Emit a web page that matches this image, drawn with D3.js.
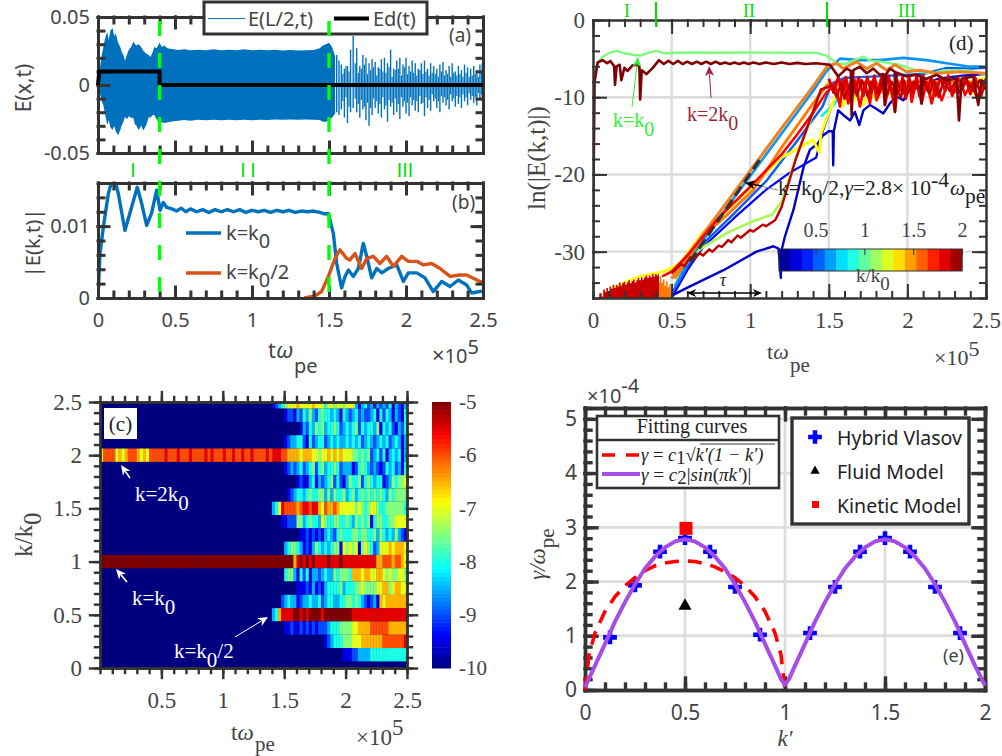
<!DOCTYPE html>
<html>
<head>
<meta charset="utf-8">
<script src="https://cdnjs.cloudflare.com/ajax/libs/d3/7.8.5/d3.min.js"></script>
<style>
  html, body { margin: 0; padding: 0; background: #fff; }
  svg { display: block; }
</style>
</head>
<body>
<div id="chart"></div>
<script>
// ---- panel (a): envelope of E(L/2,t), then single spikes after t=1.5
var aEnvT    = [0,.012,.024,.035,.045,.06,.07,.08,.095,.105,.115,.13,.145,.155,.165,.175,.19,.2,.215,.23,.24,.25,.265,.28,.295,.315,.33,.34,.355,.365,.38,.4,.415,.43,.45,.48,.52,.56,.6,.65,.7,.75,.8,.85,.9,.95,1,1.05,1.1,1.15,1.2,1.25,1.3,1.35,1.4,1.44,1.46,1.48,1.5,1.52,1.54];
var aEnvUp   = [0,.012,.022,.028,.034,.039,.033,.04,.0418,.036,.038,.031,.028,.024,.022,.0178,.023,.026,.028,.032,.03,.029,.03,.028,.025,.023,.022,.0205,.024,.028,.027,.031,.028,.029,.027,.0265,.0258,.0262,.0255,.026,.0256,.0262,.0255,.026,.0256,.0262,.0255,.026,.0256,.026,.0254,.0258,.0254,.0256,.0258,.027,.029,.03,.031,.028,.021];
var aEnvDown = [0,-.006,-.012,-.015,-.021,-.0295,-.026,-.031,-.033,-.03,-.034,-.037,-.033,-.0294,-.027,-.0235,-.025,-.023,-.024,-.0245,-.029,-.03,-.033,-.03,-.0335,-.029,-.0235,-.024,-.022,-.022,-.025,-.0295,-.0272,-.028,-.0275,-.0268,-.0262,-.0258,-.0262,-.0256,-.026,-.0255,-.026,-.0256,-.026,-.0255,-.026,-.0255,-.0258,-.0254,-.0256,-.0254,-.0256,-.0254,-.0256,-.0258,-.027,-.027,-.026,-.024,-.021];
var aSpikeT    = [1.55,1.565,1.58,1.6,1.62,1.64,1.657,1.68,1.7,1.72,1.74,1.76,1.78,1.8,1.82,1.84,1.86,1.88,1.9,1.92,1.94,1.96,1.98,2,2.02,2.04,2.06,2.08,2.1,2.12,2.14,2.16,2.18,2.2,2.22,2.24,2.26,2.28,2.3,2.32,2.34,2.36,2.38,2.4,2.42,2.44,2.46,2.48,2.495];
var aSpikeUp   = [.022,.018,.015,.012,.014,.026,.036,.027,.014,.022,.02,.016,.019,.017,.013,.019,.02,.016,.026,.012,.018,.02,.015,.02,.014,.018,.016,.012,.016,.018,.012,.016,.014,.012,.015,.017,.011,.014,.016,.01,.014,.011,.015,.013,.012,.014,.011,.015,.016];
var aSpikeDown = [-.02,-.022,-.018,-.024,-.028,-.02,-.017,-.02,-.024,-.018,-.026,-.03,-.022,-.017,-.021,-.024,-.018,-.027,-.016,-.022,-.02,-.025,-.016,-.021,-.023,-.015,-.019,-.02,-.014,-.023,-.017,-.019,-.012,-.017,-.02,-.013,-.015,-.018,-.012,-.016,-.014,-.017,-.012,-.015,-.011,-.013,-.015,-.01,-.012];
var aFillT    = [1.59,1.61,1.63,1.67,1.69,1.71,1.73,1.75,1.77,1.79,1.81,1.83,1.85,1.87,1.89,1.91,1.93,1.95,1.97,1.99,2.01,2.03,2.05,2.07,2.09,2.11,2.13,2.15,2.17,2.19,2.21,2.23,2.25,2.27,2.29,2.31,2.33,2.35,2.37,2.39,2.41,2.43,2.45,2.47,2.49];
var aFillUp   = [.008,.014,.01,.016,.009,.012,.015,.008,.011,.013,.007,.012,.01,.009,.013,.006,.011,.012,.007,.013,.008,.01,.009,.007,.011,.008,.01,.007,.009,.008,.006,.01,.007,.008,.006,.009,.007,.008,.006,.009,.006,.007,.008,.006,.009];
var aFillDown = [-.012,-.009,-.016,-.01,-.014,-.011,-.016,-.013,-.017,-.01,-.012,-.014,-.009,-.015,-.011,-.013,-.01,-.014,-.009,-.012,-.013,-.009,-.011,-.012,-.008,-.013,-.009,-.011,-.007,-.01,-.012,-.008,-.009,-.011,-.007,-.01,-.008,-.009,-.007,-.009,-.006,-.008,-.009,-.006,-.007];
var aEdT = [0,.008,.4,.4,2.5];
var aEdV = [0,.01,.01,0,0];

// ---- panel (b): |E(k,t)|
var bK0T = [0,.013,.035,.067,.089,.11,.132,.175,.219,.255,.284,.316,.348,.381,.403,.424,.446,.48,.51,.54,.57,.6,.64,.68,.72,.76,.8,.84,.88,.92,.96,1,1.04,1.08,1.12,1.16,1.2,1.24,1.28,1.32,1.36,1.4,1.44,1.47,1.496,1.528,1.55,1.582,1.604,1.626,1.658,1.69,1.723,1.745,1.777,1.81,1.842,1.885,1.94,1.983,2.015,2.07,2.123,2.177,2.232,2.286,2.34,2.394,2.426,2.48,2.5];
var bK0V = [0,.0062,.0099,.0145,.0162,.0164,.0145,.0094,.0127,.0154,.0131,.0101,.0118,.015,.0122,.0133,.0126,.0124,.0121,.0125,.012,.0124,.012,.0123,.0119,.0123,.012,.0123,.012,.0123,.0119,.0122,.012,.0122,.0119,.0122,.012,.0122,.0119,.0121,.012,.0121,.0119,.0117,.01175,.009,.0048,.0014,.003,.0039,.003,.0041,.0076,.0058,.0028,.0041,.0035,.0041,.0046,.0023,.0035,.0035,.0028,.0009,.0023,.0016,.0025,.0018,.0007,.0009,.001];
var bK02T = [1.34,1.41,1.452,1.496,1.539,1.571,1.615,1.636,1.669,1.712,1.745,1.788,1.831,1.874,1.918,1.972,2.015,2.07,2.113,2.167,2.221,2.286,2.351,2.394,2.48,2.5];
var bK02V = [0,.0003,.0009,.003,.0055,.0067,.0055,.0053,.0062,.0041,.0055,.0058,.0048,.0058,.0044,.0058,.0051,.0051,.0046,.0048,.0041,.003,.0032,.0032,.0023,.0022];

// ---- panel (c): heat map, one hex digit per column, value = -10 + digit/2
var heatStart = 1.4, heatStep = 0.025;
var heatRows = [
  "1234566676 6667666466 5665666313 4231323241 32131", // k=2.5
  "0000122132 4353245443 4314323423 2234142431 32144",
  "0000000001 3243545344 5423434524 3443514342 13243",
  "0000123344 2142344234 3433434342 3432343423 43132",
  "9998877776 7776656676 7676665545 4523424134 34132", // k=2
  "0000123234 2345245344 5423331245 4323212434 23143",
  "0000000012 1134132345 2421354452 4543441235 45566",
  "0000012344 3454455353 5445345345 4545454354 55554",
  "3469888878 9989976877 8766666565 4566544555 55543", // k=1.5
  "0001122255 3454436544 5544543545 4514554455 66666",
  "0000000001 1212121343 2454445545 5445354343 53212",
  "0000345543 1213543434 5516565615 6542366676 77766",
  "aaaaaaa79a 9a9a9999a9 99a9999999 99997788878 8766", // k=1
  "0000455314 2413323433 5455547776 7766776565 56656",
  "0000000011 1213121344 4453444556 5555667756 77665",
  "0002343312 3343342344 3344554543 2123176777 77777",
  "3479999aa9 a9aaaa9aaa aaaaaa9999 9999999999 99998", // k=0.5
  "0000112112 1212122234 4455556677 7788888877 77777",
  "0000000000 0000000123 4445556667 7777778888 88899",
  "0000000000 0000000000 0001112233 3344444444 44444"  // k=0.125
];
var heatEarlyK2 = "6888867678 8876768888 8988898889 8888989888 9889889889 888898";
var heatEarlyK1 = "aaaaaaaaaa aaaaaaaaaa aaaaaaaaaa aaaaaaaaaa aaaaaaaaaa aaaaaa";

// ---- panel (d): ln(|E(k,t)|), [t, value] pairs
var dGreen = [[0,-11],[.01,-7],[.03,-5.5],[.06,-4.8],[.1,-4.3],[.15,-4],[.2,-4.3],[.25,-4.5],[.3,-4.6],[.36,-4.2],[.4,-4],[.45,-4.3],[.6,-4.2],[.8,-4.25],[1,-4.2],[1.2,-4.25],[1.42,-4.25],[1.486,-4.6],[1.55,-5.6],[1.6,-5.7],[1.72,-4.75],[1.77,-5.3],[1.83,-5.4],[1.95,-5.8],[2.08,-6.7],[2.165,-6.9],[2.23,-6.5],[2.376,-6.5],[2.5,-7.1]];
var dDarkRed = [[0,-31],[.004,-20],[.01,-8],[.03,-5.5],[.06,-5.2],[.09,-5.6],[.11,-5.3],[.135,-6],[.14,-8.4],[.15,-6],[.17,-5.8],[.18,-7.8],[.2,-6.2],[.22,-6.6],[.25,-5.9],[.27,-5.8],[.295,-6],[.3,-10.3],[.31,-6.5],[.34,-7],[.38,-6.2],[.42,-5.2],[.45,-5.7],[.48,-5.3],[.51,-5.7],[.54,-5.3],[.57,-5.7],[.6,-5.4],[.63,-5.7],[.66,-5.4],[.69,-5.7],[.72,-5.4],[.75,-5.7],[.78,-5.4],[.81,-5.7],[.84,-5.5],[.87,-5.7],[.9,-5.5],[.93,-5.7],[.96,-5.5],[.99,-5.7],[1.02,-5.5],[1.06,-5.7],[1.1,-5.5],[1.15,-5.7],[1.2,-5.5],[1.25,-5.7],[1.3,-5.55],[1.35,-5.7],[1.42,-5.6],[1.507,-5.8],[1.56,-7.3],[1.613,-6.3],[1.64,-6.6],[1.645,-12.3],[1.656,-6.5],[1.698,-6.05],[1.741,-6.9],[1.783,-6.3],[1.825,-7.1],[1.847,-7],[1.857,-11],[1.865,-7],[1.889,-6.3],[1.92,-6.7],[1.921,-11.9],[1.93,-6.8],[1.942,-6.9],[1.995,-7.3],[2.059,-7.1],[2.085,-7.3],[2.09,-10.8],[2.1,-7.5],[2.122,-7.6],[2.186,-7.1],[2.25,-7.8],[2.313,-7.6],[2.328,-13],[2.345,-7.6],[2.419,-7.3],[2.451,-11],[2.472,-7.8],[2.5,-8.2]];
var dBottomBlue = [[.5,-35.7],[.617,-34.5],[.83,-32.4],[1.04,-30],[1.147,-29.3],[1.18,-29.6],[1.195,-33.4],[1.195,-30.2],[1.22,-28.1],[1.275,-24.6],[1.34,-19],[1.38,-16.8],[1.43,-16],[1.46,-15],[1.5,-14.4],[1.525,-14.4],[1.528,-18.8],[1.532,-14.4],[1.56,-11.7],[1.592,-12.3],[1.635,-13],[1.666,-11.9],[1.694,-13.6],[1.72,-11.7],[1.762,-11],[1.794,-11.4],[1.847,-12.1],[1.889,-10.8],[1.931,-9.9],[1.974,-10.4],[2.006,-9.3],[2.08,-8.6],[2.2,-7.6],[2.35,-7.2],[2.5,-7]];
var dBlue = [[.5,-36],[.6,-32.4],[.7,-29.4],[.9,-25.6],[1.1,-22],[1.25,-19.8],[1.42,-17.8],[1.46,-14.5],[1.52,-11],[1.56,-9.5]];
var dMidBlue = [[.49,-35.8],[.6,-32],[.7,-29],[.9,-25],[1.1,-20.9],[1.3,-15.6],[1.46,-11.2],[1.52,-8.2],[1.6,-7.5],[1.8,-7.3],[2.1,-7],[2.25,-6.2],[2.4,-6.3],[2.5,-6.2]];
var dLightBlue = [[.52,-34.5],[.6,-31.4],[.8,-25.7],[1,-20.2],[1.2,-14.7],[1.4,-9.2],[1.486,-6.6],[1.571,-5],[1.698,-5.2],[1.825,-5.2],[1.974,-4.9],[2.122,-5.2],[2.25,-5.6],[2.376,-6],[2.5,-6.05]];
var dOrange = [[.5,-33.5],[.6,-30.5],[.8,-25],[1,-19.5],[1.2,-14],[1.4,-8.6],[1.49,-6],[1.55,-5.6],[1.592,-6.3],[1.677,-5.4],[1.741,-6.3],[1.804,-5.6],[1.868,-6.5],[1.921,-5.8],[1.995,-6.7],[2.08,-6.5],[2.186,-6.9],[2.335,-6.7],[2.5,-6.9]];
var dOrange2 = [[.52,-33.5],[.7,-28],[.85,-25.3],[1.02,-22],[1.2,-16.5],[1.4,-10.8],[1.49,-8.4],[1.6,-8.5],[1.65,-10],[1.7,-8],[1.8,-8],[1.85,-9.5],[1.95,-8],[2.15,-8],[2.155,-10.7],[2.17,-8],[2.4,-8],[2.5,-8]];
var dLime = [[.58,-31.4],[.7,-29.4],[.85,-27.6],[1,-26.2],[1.14,-25.2],[1.2,-23.5],[1.28,-18.5],[1.45,-9.5],[1.5,-8]];
var dCyan = [[1.45,-12.5],[1.54,-10.8],[1.58,-9.5]];
var dYellow = [[.12,-34.8],[.2,-34],[.3,-33.2],[.45,-32.6],[.55,-31.6],[.7,-27.5],[1,-21.8],[1.2,-17.8],[1.29,-16.8],[1.4,-15.5],[1.44,-17.2],[1.45,-14.7],[1.5,-12],[1.53,-10.6],[1.56,-9],[1.59,-11.2],[1.62,-9],[1.65,-11],[1.68,-9],[1.72,-11],[1.76,-9],[1.8,-10.4],[1.84,-8.8],[1.89,-9.6],[1.94,-8.5],[2,-9],[2.05,-8],[2.14,-8.2],[2.154,-10.4],[2.17,-8],[2.3,-7.8],[2.4,-8],[2.42,-9.5],[2.44,-7.8],[2.5,-7.5]];
var dRed = [[.44,-33.2],[.5,-32.6],[.6,-30.5],[.8,-25.6],[1,-21.6],[1.2,-17.4],[1.3,-14.8],[1.4,-12],[1.48,-9.5],[1.539,-8.2],[1.571,-11.2],[1.592,-7.8],[1.624,-10.8],[1.666,-7.8],[1.698,-11.2],[1.73,-8.2],[1.762,-10.8],[1.783,-7.8],[1.804,-10.4],[1.847,-8.2],[1.857,-11],[1.889,-8],[1.921,-11.9],[1.942,-8.2],[1.974,-9.5],[2.016,-8.2],[2.027,-10.6],[2.059,-7.8],[2.09,-10.8],[2.122,-8],[2.154,-10.8],[2.186,-8.2],[2.218,-10.4],[2.26,-8],[2.292,-9.5],[2.345,-8.2],[2.366,-9.7],[2.408,-8.2],[2.44,-9.9],[2.5,-8.6]];
var dRed2 = [[.5,-32.8],[.56,-31.6],[.58,-31.9],[.62,-30.7],[.64,-31],[.68,-30.2],[.7,-30.5],[.74,-29.7],[.76,-30],[.8,-29.2],[.82,-29.4],[.86,-28.5],[.88,-28.8],[.92,-27.9],[.94,-28.2],[1,-27.2],[1.02,-27.4],[1.08,-26.5],[1.1,-26.7],[1.16,-25.9],[1.2,-24.2],[1.29,-18],[1.45,-9],[1.52,-8.5],[1.55,-10],[1.58,-8],[1.6,-10.2],[1.64,-8],[1.68,-9.8],[1.71,-7.8],[1.75,-10],[1.77,-8],[1.82,-9.6],[1.84,-7.8],[1.87,-9.8],[1.9,-8],[1.96,-10],[1.98,-7.9],[2,-9.5],[2.04,-8],[2.08,-9.2],[2.1,-7.6],[2.14,-9.5],[2.17,-7.8],[2.2,-10],[2.23,-7.8],[2.27,-9.2],[2.31,-7.8],[2.33,-9.4],[2.38,-7.8],[2.42,-9.2],[2.46,-7.8],[2.5,-9]];
var dRed3 = [[1.5,-7.6],[1.53,-9.4],[1.56,-7.4],[1.585,-9.6],[1.61,-7.4],[1.63,-9.8],[1.65,-7.6],[1.67,-9.2],[1.69,-7.4],[1.72,-9.8],[1.745,-7.4],[1.77,-9.4],[1.79,-7.2],[1.81,-9.6],[1.835,-7.4],[1.86,-9],[1.88,-7.2],[1.905,-9.8],[1.93,-7.4],[1.95,-9.2],[1.97,-7.4],[1.99,-10.2],[2.01,-7.4],[2.035,-9.4],[2.06,-7.2],[2.075,-9.8],[2.1,-7.2],[2.13,-9.2],[2.15,-7.4],[2.18,-9.8],[2.21,-7.4],[2.24,-9.2],[2.26,-7.2],[2.285,-9.8],[2.32,-7.4],[2.35,-9],[2.37,-7.4],[2.4,-9.6],[2.43,-7.4],[2.47,-9.8],[2.5,-7.6]];
var dFit = [[.617,-31.3],[1.06,-18.1]];
var dNoiseRedT = [.03,.05,.06,.07,.08,.09,.1,.11,.12,.13,.14,.15,.16,.17,.18,.19,.2,.21,.22,.23,.24,.25,.26,.27,.28,.29,.3,.31,.32,.33,.34,.35,.36,.37,.38,.39,.4,.41,.42];
var dNoiseRedV = [-36,-35.4,-35.8,-34.9,-35.2,-34.7,-35.1,-34.5,-34.8,-34.3,-34.7,-34.3,-34.5,-34,-34.4,-34.1,-33.9,-34.3,-34,-33.7,-34.1,-33.8,-33.6,-34,-33.7,-33.4,-33.7,-33.3,-33.6,-33.3,-33.1,-33.4,-33.1,-33.3,-32.9,-33.2,-32.9,-33.1,-32.9];
var dNoiseOrangeT = [.4,.41,.42,.43,.44,.45,.46,.47,.48,.49,.5];
var dNoiseOrangeV = [-34.5,-33.4,-34,-33.2,-34,-33.6,-34.4,-33.8,-34.6,-34.2,-35.4];

// ---- panel (e)
var eHybridK = [.125,.25,.375,.5,.625,.75,.875,1.125,1.25,1.375,1.5,1.625,1.75,1.875];
var eHybridV = [.97,1.93,2.55,2.8,2.55,1.9,1.02,1.05,1.9,2.55,2.8,2.55,1.9,1.05];
var eDashK = [0,.02,.05,.1,.15,.2,.25,.3,.35,.4,.45,.5,.55,.6,.65,.7,.75,.8,.85,.9,.95,.98,1];
var eDashV = [0,.65,1.05,1.45,1.72,1.92,2.07,2.2,2.29,2.34,2.37,2.38,2.37,2.33,2.27,2.18,2.07,1.92,1.72,1.45,1.05,.65,0];
var eFitK = [0,.05,.1,.15,.2,.25,.3,.35,.4,.45,.5,.55,.6,.65,.7,.75,.8,.85,.9,.95,.98,1,1.02,1.05,1.1,1.15,1.2,1.25,1.3,1.35,1.4,1.45,1.5,1.55,1.6,1.65,1.7,1.75,1.8,1.85,1.9,1.95,2];
var eFitV = [.05,.45,.85,1.26,1.62,1.95,2.24,2.46,2.63,2.74,2.78,2.74,2.63,2.46,2.24,1.95,1.62,1.26,.85,.45,.2,.1,.2,.45,.85,1.26,1.62,1.95,2.24,2.46,2.63,2.74,2.78,2.74,2.63,2.46,2.24,1.95,1.62,1.26,.85,.45,.08];
var eFluid = [.5,1.55];
var eKinetic = [.505,2.98];

var svg = d3.select("#chart").append("svg").attr("width", 1002).attr("height", 756);
var sans = "'Noto Sans', sans-serif", serif = "'Liberation Serif', serif", plain = "'Liberation Sans', sans-serif";
var dark = "#333333", gray = "#444444";

var jet = d3.scaleLinear().domain([0,.125,.375,.625,.875,1])
  .range(["#00007f","#0000ff","#00ffff","#ffff00","#ff0000","#7f0000"]);

function pairs(xs, ys) { return xs.map(function(v, i) { return [v, ys[i]]; }); }

function clip(id, x, y) {
  svg.append("clipPath").attr("id", id).append("rect")
    .attr("x", x.range()[0]).attr("y", y.range()[1])
    .attr("width", x.range()[1] - x.range()[0]).attr("height", y.range()[0] - y.range()[1]);
}

// ticks on all four sides, inward unless o.outward
function frame(x, y, o) {
  var g = svg.append("g");
  var dir = o.outward ? 1 : -1;
  var sides = [
    [d3.axisBottom, x, y.range()[0], true, o.xMinor, o.xMajor],
    [d3.axisTop, x, y.range()[1], true, o.xMinor, o.xMajor],
    [d3.axisLeft, y, x.range()[0], false, o.yMinor, o.yMajor],
    [d3.axisRight, y, x.range()[1], false, o.yMinor, o.yMajor]
  ];
  sides.forEach(function(s) {
    [[s[4], o.minor], [s[5], o.major]].forEach(function(t) {
      var axis = s[0](s[1]).tickValues(t[0]).tickSize(dir * t[1]).tickSizeOuter(0).tickFormat("");
      var a = g.append("g")
        .attr("transform", s[3] ? "translate(0," + s[2] + ")" : "translate(" + s[2] + ",0)")
        .call(axis);
      a.selectAll("line,path").attr("stroke", dark).attr("stroke-width", o.width).attr("stroke-linecap", "square");
    });
  });
}

function labels(axisFn, scale, pos, horizontal, values, pad, size, family, fmt) {
  var axis = axisFn(scale).tickValues(values).tickSize(0).tickPadding(pad).tickFormat(fmt || function(d) { return String(d); });
  var a = svg.append("g")
    .attr("transform", horizontal ? "translate(0," + pos + ")" : "translate(" + pos + ",0)")
    .call(axis);
  a.select(".domain").remove();
  a.selectAll("text").attr("fill", gray).style("font-family", family).style("font-size", size + "px");
}

// parts: [text, kind, dx, size]; kind is "", "i", "sub", "sup"
function rich(x, y, parts, o) {
  o = o || {};
  var t = svg.append("text").attr("x", x).attr("y", y)
    .attr("fill", o.fill || gray)
    .attr("text-anchor", o.anchor || "start")
    .style("font-family", o.family || sans)
    .style("font-size", (o.size || 20) + "px");
  if (o.rotate) t.attr("transform", "rotate(" + o.rotate + "," + x + "," + y + ")");
  var drop = o.drop || (o.size || 20) * 0.42, rise = o.rise || (o.size || 20) * 0.42;
  var shift = 0;
  parts.forEach(function(p) {
    var want = p[1] == "sub" ? drop : (p[1] == "sup" ? -rise : 0);
    var s = t.append("tspan").attr("dy", want - shift).text(p[0]);
    if (p[1] == "i") s.style("font-style", "italic");
    if (p[2] != null) s.attr("dx", p[2]);
    if (p[3] != null) s.style("font-size", p[3] + "px");
    shift = want;
  });
  return t;
}

function arrow(x1, y1, x2, y2, color, w, head) {
  var a = Math.atan2(y2 - y1, x2 - x1), h = head || 9;
  svg.append("line").attr("x1", x1).attr("y1", y1)
    .attr("x2", x2 - Math.cos(a) * h * .7).attr("y2", y2 - Math.sin(a) * h * .7)
    .attr("stroke", color).attr("stroke-width", w);
  var pts = [[x2, y2],
    [x2 - Math.cos(a - .42) * h, y2 - Math.sin(a - .42) * h],
    [x2 - Math.cos(a) * h * .65, y2 - Math.sin(a) * h * .65],
    [x2 - Math.cos(a + .42) * h, y2 - Math.sin(a + .42) * h]];
  svg.append("polygon").attr("points", pts.join(" ")).attr("fill", color);
}

function stageLines(x) {
  [.4, 1.5].forEach(function(t) {
    svg.append("line").attr("x1", x(t)).attr("x2", x(t)).attr("y1", 21).attr("y2", 298)
      .attr("stroke", "#00ff00").attr("stroke-width", 3.4).attr("stroke-dasharray", "15 17");
  });
}

// ==== panel (a)
var xa = d3.scaleLinear().domain([0, 2.5]).range([98, 483]);
var ya = d3.scaleLinear().domain([-.05, .05]).range([153, 17]);
var tenths = d3.range(0, 2.51, .1);
var halves = [0, .5, 1, 1.5, 2, 2.5];
clip("clipA", xa, ya);
var pa = svg.append("g").attr("clip-path", "url(#clipA)");
pa.append("path")
  .attr("d", d3.area().x(function(d) { return xa(d); })
    .y0(function(d, i) { return ya(aEnvDown[i]); })
    .y1(function(d, i) { return ya(aEnvUp[i]); })(aEnvT))
  .attr("fill", "#0072bd");
function spikes(ts, ups, downs, w) {
  pa.append("g").selectAll("line").data(ts).enter().append("line")
    .attr("x1", function(d) { return xa(d); }).attr("x2", function(d) { return xa(d); })
    .attr("y1", function(d, i) { return ya(ups[i]); })
    .attr("y2", function(d, i) { return ya(downs[i]); })
    .attr("stroke", "#0072bd").attr("stroke-width", w);
}
spikes(aSpikeT, aSpikeUp, aSpikeDown, 1.4);
spikes(aFillT, aFillUp, aFillDown, 1.2);
frame(xa, ya, { xMinor: tenths, xMajor: halves, yMinor: d3.range(-.05, .051, .01), yMajor: [-.05, 0, .05], minor: 6, major: 11, width: 3 });
pa = svg.append("g");
pa.append("path")
  .attr("d", d3.line().x(function(d) { return xa(d[0]); }).y(function(d) { return ya(d[1]); })(pairs(aEdT, aEdV)))
  .attr("fill", "none").attr("stroke", "#000").attr("stroke-width", 4);
labels(d3.axisLeft, ya, 98, false, [-.05, 0, .05], 8, 20, sans, function(d) { return d == 0 ? "0" : d.toFixed(2); });
rich(31, 88, [["E(x,t)", ""]], { anchor: "middle", rotate: -90, size: 21, fill: gray });
rich(449, 42, [["(a)", ""]], { size: 19 });
// legend of (a)
svg.append("rect").attr("x", 204).attr("y", 2).attr("width", 223).attr("height", 32)
  .attr("fill", "#fff").attr("stroke", dark).attr("stroke-width", 3);
svg.append("line").attr("x1", 208).attr("x2", 245).attr("y1", 18.5).attr("y2", 18.5).attr("stroke", "#0072bd").attr("stroke-width", 1.2);
rich(248, 26, [["E(L/2,t)", ""]], { size: 20 });
svg.append("line").attr("x1", 334).attr("x2", 369).attr("y1", 18.5).attr("y2", 18.5).attr("stroke", "#000").attr("stroke-width", 4);
rich(373, 26, [["Ed(t)", ""]], { size: 20 });

// stage marks between (a) and (b)
rich(133, 177, [["I", ""]], { anchor: "middle", fill: "#00e000", size: 19.5, family: plain });
rich(248, 177, [["I", ""], ["I", "", 4.6]], { anchor: "middle", fill: "#00e000", size: 19.5, family: plain });
rich(405, 177, [["III", ""]], { anchor: "middle", fill: "#00e000", size: 19.5, family: plain });

// ==== panel (b)
var xb = d3.scaleLinear().domain([0, 2.5]).range([98, 483]);
var yb = d3.scaleLinear().domain([0, .016]).range([298, 183]);
clip("clipB", xb, yb);
var bLine = d3.line().x(function(d) { return xb(d[0]); }).y(function(d) { return yb(d[1]); });
var pb = svg.append("g").attr("clip-path", "url(#clipB)");
pb.append("path").attr("d", bLine(pairs(bK0T, bK0V))).attr("fill", "none").attr("stroke", "#0072bd").attr("stroke-width", 3.4).attr("stroke-linejoin", "round");
pb.append("path").attr("d", bLine(pairs(bK02T, bK02V))).attr("fill", "none").attr("stroke", "#d95319").attr("stroke-width", 3.4).attr("stroke-linejoin", "round");
frame(xb, yb, { xMinor: tenths, xMajor: halves, yMinor: d3.range(0, .0161, .002), yMajor: [0, .01], minor: 6, major: 11, width: 3 });
labels(d3.axisLeft, yb, 98, false, [0, .01], 8, 20, sans);
labels(d3.axisBottom, xb, 298, true, halves, 15, 20, sans);
rich(40, 243, [["|E(k,t)|", ""]], { anchor: "middle", rotate: -90, size: 20 });
rich(452, 209, [["(b)", ""]], { size: 19 });
svg.append("line").attr("x1", 186).attr("x2", 221).attr("y1", 233).attr("y2", 233).attr("stroke", "#0072bd").attr("stroke-width", 3.4);
rich(226, 240, [["k=k", ""], ["0", "sub"]], { size: 20 });
svg.append("line").attr("x1", 186).attr("x2", 221).attr("y1", 273).attr("y2", 273).attr("stroke", "#d95319").attr("stroke-width", 3.4);
rich(226, 279, [["k=k", ""], ["0", "sub"], ["/2", ""]], { size: 20 });
rich(268, 358, [["t", ""], ["ω", "i"]], { size: 22 });
rich(294, 373, [["pe", ""]], { size: 20 });
rich(432, 363, [["×", "", null, 22], ["10", ""], ["5", "sup"]], { size: 20, rise: 9 });

stageLines(xa);

// ==== panel (d)
var xd = d3.scaleLinear().domain([0, 2.5]).range([593, 986]);
var yd = d3.scaleLinear().domain([-36, 0]).range([298, 20]);
var dLine = d3.line().x(function(d) { return xd(d[0]); }).y(function(d) { return yd(d[1]); });
clip("clipD", xd, yd);
var gridD = svg.append("g");
[.5, 1, 1.5, 2].forEach(function(t) {
  gridD.append("line").attr("x1", xd(t)).attr("x2", xd(t)).attr("y1", 20).attr("y2", 298).attr("stroke", "#dcdcdc").attr("stroke-width", 2.4);
});
[-10, -20, -30].forEach(function(v) {
  gridD.append("line").attr("x1", 593).attr("x2", 986).attr("y1", yd(v)).attr("y2", yd(v)).attr("stroke", "#dcdcdc").attr("stroke-width", 2.4);
});
var pd = svg.append("g").attr("clip-path", "url(#clipD)");
var dSeries = [
  [dBottomBlue, "#0000c8", 2.4],
  [dBlue, "#0000ff", 2.2],
  [dMidBlue, "#0a5cff", 2.4],
  [dLime, "#a8f850", 2.6],
  [dLightBlue, "#0a96f0", 2.6],
  [dCyan, "#00f0ff", 2.6],
  [dGreen, "#80fb80", 2.4],
  [dYellow, "#ffff00", 2.8],
  [dOrange2, "#ff7a00", 2.8],
  [dOrange, "#f08020", 3],
  [dRed, "#ff0000", 2.6],
  [dRed3, "#e00000", 2.8],
  [dRed2, "#c00000", 2.4],
  [dDarkRed, "#7f0000", 2.6]
];
dSeries.forEach(function(s) {
  pd.append("path").attr("d", dLine(s[0])).attr("fill", "none")
    .attr("stroke", s[1]).attr("stroke-width", s[2]).attr("stroke-linejoin", "round");
});
var dNoise = d3.area().curve(d3.curveStep).x(function(d) { return xd(d[0]); }).y0(yd(-36)).y1(function(d) { return yd(d[1]); });
pd.append("path").attr("d", dNoise(pairs(dNoiseOrangeT, dNoiseOrangeV))).attr("fill", "#ff7a00");
pd.append("path").attr("d", dNoise(pairs(dNoiseRedT, dNoiseRedV))).attr("fill", "#c80000");
pd.append("path").attr("d", dLine(dFit)).attr("fill", "none").attr("stroke", "#333").attr("stroke-width", 3.2).attr("stroke-dasharray", "11 5");
frame(xd, yd, { xMinor: tenths, xMajor: halves, yMinor: d3.range(-36, .1, 2), yMajor: [-30, -20, -10, 0], minor: 6, major: 13, width: 2 });
labels(d3.axisLeft, yd, 593, false, [-30, -20, -10, 0], 8, 23, serif);
labels(d3.axisBottom, xd, 298, true, halves, 14, 23, serif);
rich(545, 158, [["ln(|E(k,t)|)", ""]], { anchor: "middle", rotate: -90, size: 25, family: serif });
rich(949, 50, [["(d)", ""]], { size: 21, family: serif, fill: "#222" });
rich(767, 359, [["t", ""], ["ω", "i"]], { size: 22, family: serif });
rich(790, 372, [["pe", ""]], { size: 21, family: serif });
rich(934, 365, [["×", ""], ["10", ""], ["5", "sup"]], { size: 22, family: serif });
// stage marks over (d)
rich(627, 16.5, [["I", ""]], { anchor: "middle", fill: "#00e000", size: 18, family: serif });
rich(749, 16.5, [["II", ""]], { anchor: "middle", fill: "#00e000", size: 18, family: serif });
rich(907, 16.5, [["III", ""]], { anchor: "middle", fill: "#00e000", size: 18, family: serif });
[656, 827].forEach(function(x) {
  svg.append("line").attr("x1", x).attr("x2", x).attr("y1", 2).attr("y2", 27).attr("stroke", "#00e000").attr("stroke-width", 2);
});
// annotations of (d)
arrow(632, 107, 638, 57, "#30f030", 1, 11);
rich(613, 127, [["k=k", ""], ["0", "sub"]], { size: 20, family: serif, fill: "#30f030", drop: 9 });
arrow(711, 98, 709, 66, "#a0243c", 1, 11);
rich(687, 121, [["k=2k", ""], ["0", "sub"]], { size: 20, family: serif, fill: "#a0243c", drop: 9 });
svg.append("line").attr("x1", 778).attr("y1", 190).attr("x2", 760).attr("y2", 186).attr("stroke", "#888").attr("stroke-width", 1);
arrow(762, 186, 745, 183, "#000", 1.4, 11);
rich(778, 195, [["k=k", ""], ["0", "sub"], ["/2,", ""], ["γ", "i"], ["=2.8× 10", ""], ["-4", "sup"], ["ω", "i", 1], ["pe", "sub"]],
  { size: 21.5, family: serif, fill: "#222", drop: 8, rise: 8 });
arrow(725, 293, 687, 293, "#000", 1.5, 10);
arrow(725, 293, 762, 293, "#000", 1.5, 10);
rich(723, 286, [["τ", "i"]], { size: 18, family: serif, anchor: "middle", fill: "#222" });
// discrete colour bar of (d)
var kd = d3.scaleLinear().domain([.125, 2]).range([779, 962]);
var dSteps = d3.range(16);
svg.selectAll(".dbar").data(dSteps).enter().append("rect").attr("class", "dbar")
  .attr("x", function(d) { return 779 + d * 183 / 16; }).attr("y", 249)
  .attr("width", 183 / 16 + .5).attr("height", 22)
  .attr("fill", function(d) { return jet((d + .5) / 16); });
svg.append("rect").attr("x", 779).attr("y", 249).attr("width", 183).attr("height", 22).attr("fill", "none").attr("stroke", "#333").attr("stroke-width", 1);
var dbarAxis = d3.axisTop(kd).tickValues([.5, 1, 1.5, 2]).tickSize(-6).tickPadding(12).tickFormat(function(d) { return String(d); });
var gdb = svg.append("g").attr("transform", "translate(0,249)").call(dbarAxis);
gdb.select(".domain").remove();
gdb.selectAll("line").attr("stroke", "#333").attr("stroke-width", 1);
gdb.selectAll("text").attr("fill", gray).style("font-family", serif).style("font-size", "20px");
rich(856, 282, [["k/k", ""], ["0", "sub"]], { size: 19, family: serif, drop: 8 });

// ==== panel (c)
var xc = d3.scaleLinear().domain([0, 2.5]).range([100, 407]);
var yc = d3.scaleLinear().domain([0, 2.5]).range([668, 402]);
function heatColor(level) { return jet(level / 10); }
function digits(s) { return s.replace(/ /g, "").split("").map(function(c) { return parseInt(c, 16); }); }
clip("clipC", xc, yc);
var pc = svg.append("g").attr("clip-path", "url(#clipC)");
pc.append("rect").attr("x", 100).attr("y", 402).attr("width", 307).attr("height", 266).attr("fill", heatColor(0));
function heatRow(levels, k, start) {
  pc.append("g").selectAll("rect").data(levels).enter().append("rect")
    .attr("x", function(d, j) { return xc(start + j * heatStep); })
    .attr("y", yc(k + .0625))
    .attr("width", xc(heatStep) - xc(0) + .4)
    .attr("height", yc(0) - yc(.125))
    .attr("fill", function(d) { return heatColor(d); });
}
heatRows.forEach(function(row, i) { heatRow(digits(row), 2.5 - i * .125, heatStart); });
heatRow(digits(heatEarlyK2), 2, 0);
heatRow(digits(heatEarlyK1), 1, 0);
frame(xc, yc, { xMinor: tenths, xMajor: [.5, 1, 1.5, 2, 2.5], yMinor: d3.range(0, 2.51, .1), yMajor: halves, minor: 5, major: 10, width: 2.4, outward: true });
labels(d3.axisLeft, yc, 100, false, halves, 18, 23, serif);
labels(d3.axisBottom, xc, 668, true, [.5, 1, 1.5, 2, 2.5], 24, 23, serif);
svg.append("rect").attr("x", 104).attr("y", 408).attr("width", 33).attr("height", 31).attr("fill", "#fff");
rich(120.5, 431, [["(c)", ""]], { anchor: "middle", size: 21, family: serif, fill: "#222" });
arrow(130, 478, 121, 465, "#fff", 1.6, 11);
rich(135, 501, [["k=2k", ""], ["0", "sub"]], { size: 21, family: serif, fill: "#fff", drop: 9 });
arrow(127, 582, 116, 569, "#fff", 1.6, 11);
rich(132, 605, [["k=k", ""], ["0", "sub"]], { size: 21, family: serif, fill: "#fff", drop: 9 });
arrow(235, 637, 268, 617, "#fff", 1, 11);
rich(174, 658, [["k=k", ""], ["0", "sub"], ["/2", ""]], { size: 21, family: serif, fill: "#fff", drop: 9 });
rich(32, 557, [["k/k", ""], ["0", "sub"]], { anchor: "start", rotate: -90, size: 25, family: serif, drop: 9 });
rich(231, 740, [["t", ""], ["ω", "i"]], { size: 23, family: serif });
rich(255, 751, [["pe", ""]], { size: 21, family: serif });
rich(356, 745, [["×", ""], ["10", ""], ["5", "sup"]], { size: 23, family: serif, rise: 10 });
// colour bar of (c)
var cbar = d3.scaleLinear().domain([-10, -5]).range([668, 402]);
var cbarSteps = d3.range(0, 64);
svg.selectAll(".cbar").data(cbarSteps).enter().append("rect").attr("class", "cbar")
  .attr("x", 432).attr("width", 19)
  .attr("y", function(d) { return 668 - (d + 1) * 266 / 64; })
  .attr("height", 266 / 64 + .5)
  .attr("fill", function(d) { return jet((d + .5) / 64); });
labels(d3.axisRight, cbar, 451, false, [-10, -9, -8, -7, -6, -5], 8, 21, serif);

// ==== panel (e)
var xe = d3.scaleLinear().domain([0, 2]).range([585, 985]);
var ye = d3.scaleLinear().domain([0, 5.2]).range([690, 408]);
var eLine = d3.line().curve(d3.curveLinear).x(function(d) { return xe(d[0]); }).y(function(d) { return ye(d[1]); });
var gridE = svg.append("g");
[.5, 1, 1.5].forEach(function(t) {
  gridE.append("line").attr("x1", xe(t)).attr("x2", xe(t)).attr("y1", 408).attr("y2", 690).attr("stroke", "#dddddd").attr("stroke-width", 2.8);
});
[1, 2, 3, 4, 5].forEach(function(v) {
  gridE.append("line").attr("x1", 585).attr("x2", 985).attr("y1", ye(v)).attr("y2", ye(v)).attr("stroke", "#dddddd").attr("stroke-width", 2.8);
});
var plus = d3.symbol().type(d3.symbolCross).size(105);
svg.selectAll(".hv").data(pairs(eHybridK, eHybridV)).enter().append("path").attr("class", "hv")
  .attr("d", plus)
  .attr("transform", function(d) { return "translate(" + xe(d[0]) + "," + ye(d[1]) + ")"; })
  .attr("fill", "#0000ff");
frame(xe, ye, { xMinor: d3.range(0, 2.01, .1), xMajor: [0, .5, 1, 1.5, 2], yMinor: d3.range(0, 5.21, .2), yMajor: [0, 1, 2, 3, 4, 5], minor: 6, major: 12, width: 3.4 });
svg.append("path").attr("d", eLine(pairs(eDashK, eDashV))).attr("fill", "none").attr("stroke", "#ff0000").attr("stroke-width", 3.6).attr("stroke-dasharray", "14 9");
svg.append("path").attr("d", eLine(pairs(eFitK, eFitV))).attr("fill", "none").attr("stroke", "#a64de8").attr("stroke-width", 4).attr("stroke-linejoin", "round");
svg.append("rect").attr("x", xe(eKinetic[0]) - 6.5).attr("y", ye(eKinetic[1]) - 6.5).attr("width", 13).attr("height", 13).attr("fill", "#ff0000");
svg.append("path").attr("d", d3.symbol().type(d3.symbolTriangle).size(75)())
  .attr("transform", "translate(" + xe(eFluid[0]) + "," + ye(eFluid[1]) + ")").attr("fill", "#000");
labels(d3.axisLeft, ye, 585, false, [0, 1, 2, 3, 4, 5], 8, 21, sans);
labels(d3.axisBottom, xe, 690, true, [0, .5, 1, 1.5, 2], 15, 21, sans);
rich(943, 662, [["(e)", ""]], { size: 18 });
rich(785, 746, [["k′", "i"]], { anchor: "middle", size: 23, family: serif });
rich(545, 580, [["γ/", "i"], ["ω", "i"], ["pe", "sub", null, 21]], { rotate: -90, size: 23, family: serif, drop: 9 });
rich(587, 403, [["×", ""], ["10", ""], ["-4", "sup"]], { size: 20, rise: 10 });
// fitting legend
svg.append("rect").attr("x", 597).attr("y", 416).attr("width", 182).attr("height", 72).attr("fill", "#fff").attr("stroke", dark).attr("stroke-width", 2.6);
svg.append("line").attr("x1", 597).attr("x2", 779).attr("y1", 440).attr("y2", 440).attr("stroke", dark).attr("stroke-width", 2.6);
rich(692, 433, [["Fitting curves", ""]], { anchor: "middle", size: 20, family: serif, fill: "#222" });
svg.append("line").attr("x1", 602).attr("x2", 640).attr("y1", 455).attr("y2", 455).attr("stroke", "#ff0000").attr("stroke-width", 3.6).attr("stroke-dasharray", "13 11");
rich(641, 461, [["γ", "i"], [" = ", ""], ["c", "i"], ["1", "sub"], ["√", ""], ["k′(1 − k′)", "i"]], { size: 18.5, family: serif, fill: "#222", drop: 3 });
svg.append("line").attr("x1", 700).attr("x2", 775).attr("y1", 444).attr("y2", 444).attr("stroke", "#222").attr("stroke-width", .9);
svg.append("line").attr("x1", 602).attr("x2", 640).attr("y1", 474).attr("y2", 474).attr("stroke", "#a64de8").attr("stroke-width", 4);
rich(641, 481, [["γ", "i"], [" = ", ""], ["c", "i"], ["2", "sub"], ["|", ""], ["sin", "i"], ["(", ""], ["πk′", "i"], [")|", ""]], { size: 19, family: serif, fill: "#222", drop: 3 });
// marker legend
svg.append("rect").attr("x", 792).attr("y", 418).attr("width", 177).attr("height", 106).attr("fill", "#fff").attr("stroke", dark).attr("stroke-width", 3.4);
svg.append("path").attr("d", plus).attr("transform", "translate(815,437)").attr("fill", "#0000ff");
svg.append("path").attr("d", d3.symbol().type(d3.symbolTriangle).size(38)()).attr("transform", "translate(815,471)").attr("fill", "#000");
svg.append("rect").attr("x", 812).attr("y", 501).attr("width", 7).attr("height", 7).attr("fill", "#ff0000");
rich(837, 445, [["Hybrid Vlasov", ""]], { size: 19.5, fill: "#222" });
rich(837, 479, [["Fluid Model", ""]], { size: 19.5, fill: "#222" });
rich(837, 513, [["Kinetic Model", ""]], { size: 19.5, fill: "#222" });
</script>
</body>
</html>
